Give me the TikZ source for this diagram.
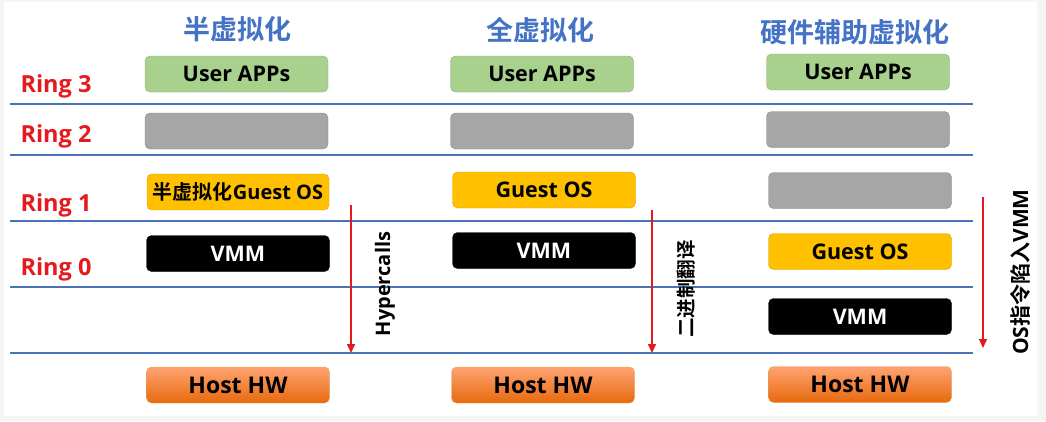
\documentclass[tikz,border=0pt]{standalone}
\usepackage{fontspec}
\setmainfont{Open Sans}
\newfontfamily\cjk{Noto Sans CJK SC}[BoldFont={Noto Sans CJK SC Bold}]
\usetikzlibrary{%
  positioning,
  arrows.meta,
}

\definecolor{ringred}{HTML}{E51A1E}
\definecolor{lineblue}{HTML}{4A72B8}
\definecolor{headblue}{HTML}{4472C4}
\definecolor{appgreen}{HTML}{A9D18E}
\definecolor{guestyellow}{HTML}{FFC000}
\definecolor{emptygray}{HTML}{A6A6A6}

\begin{document}
\begin{tikzpicture}[%
           x=1pt, y=-1pt,
           layer/.style={
             % The shape:
             rectangle,
             rounded corners=5pt,
             % The size:
             minimum width=183pt,
             minimum height=36pt,
             inner sep=0pt,
             % The text:
             font=\bfseries\fontsize{21.5}{21.5}\selectfont,
           },
           apps/.style={layer, fill=appgreen, draw=appgreen!70!black!80},
           empty/.style={layer, fill=emptygray, draw=emptygray!80!black},
           guest/.style={layer, fill=guestyellow, draw=guestyellow!85!black},
           vmm/.style={layer, fill=black, draw=black, text=white},
           hostbox/.style={
             layer,
             font=\bfseries\fontsize{23}{23}\selectfont,
             draw=orange!80!black!60,
             top color=orange!70!red!55!white, % a shading that is lighter at the top
             bottom color=orange!85!red!90!black!95, % and darker at the bottom
           },
           ring/.style={
             anchor=base west,
             text=ringred,
             font=\bfseries\fontsize{23.5}{23.5}\selectfont,
           },
           title/.style={
             text=headblue,
             font=\cjk\bfseries\fontsize{27}{27}\selectfont,
           },
           level/.style={
             line width=1.6pt,
             color=lineblue,
           },
           trap/.style={
             -{Triangle[length=9pt,width=8pt]},
             line width=1.5pt,
             color=ringred,
           },
           trapname/.style={
             rotate=90,
             font=\bfseries\fontsize{20}{20}\selectfont,
           },
         ]
         % background
         \fill[black!4] (0,0) rectangle (1046,421);
         \fill[white] (4,2) rectangle (1037,416);

         % ring separators
         \foreach \yy in {104,155,221,287,353}
           \draw[level] (10,\yy) -- (973,\yy);

         \node[ring] (ring3) at (17,92) {Ring 3};
         \node[ring] (ring2) at (17,142) {Ring 2};
         \node[ring] (ring1) at (17,211) {Ring 1};
         \node[ring] (ring0) at (17,275) {Ring 0};

         % paravirtualization
         \node[title] (para) at (237,29) {半虚拟化};
         \node[apps] (paraApps) at (236.5,74) {User APPs};
         \node[empty] (paraRing2) at (236.5,131) {};
         \node[guest, minimum width=182pt, font=\bfseries\fontsize{20}{20}\selectfont] (paraGuest) at (238,192) {{\cjk 半虚拟化}Guest OS};
         \node[vmm] (paraVmm) at (238,253.5) {VMM};
         \node[hostbox] (paraHw) at (238,385) {Host HW};

         % full virtualization
         \node[title] (full) at (540,30) {全虚拟化};
         \node[apps] (fullApps) at (542,74) {User APPs};
         \node[empty] (fullRing2) at (542,131) {};
         \node[guest] (fullGuest) at (544,190) {Guest OS};
         \node[vmm] (fullVmm) at (544,250.5) {VMM};
         \node[hostbox] (fullHw) at (543,385) {Host HW};

         % hardware assisted virtualization
         \node[title] (hw) at (855,32) {硬件辅助虚拟化};
         \node[apps] (hwApps) at (858,72) {User APPs};
         \node[empty] (hwRing2) at (858,129.5) {};
         \node[empty] (hwRing1) at (860,190.5) {};
         \node[guest] (hwGuest) at (860,251.5) {Guest OS};
         \node[vmm] (hwVmm) at (860,316.5) {VMM};
         \node[hostbox] (hwHw) at (860,384.5) {Host HW};

         % traps into the hypervisor
         \coordinate (paraTop) at (351,205);
         \coordinate (paraBot) at (351,353);
         \coordinate (fullTop) at (652,210);
         \coordinate (fullBot) at (652,353);
         \coordinate (hwTop) at (983,197);
         \coordinate (hwBot) at (983,348);

         \draw[trap] (paraTop) -- (paraBot);
         \draw[trap] (fullTop) -- (fullBot);
         \draw[trap] (hwTop) -- (hwBot);

         \node[trapname] (hypercalls) at (385,284) {Hypercalls};
         \node[trapname, font=\cjk\bfseries\fontsize{19.5}{19.5}\selectfont] (binTrans) at (686,289) {二进制翻译};
         \node[trapname, font=\bfseries\fontsize{21}{21}\selectfont] (osTrap) at (1020,272) {OS{\cjk 指令陷入}VMM};
       \end{tikzpicture}
\end{document}
